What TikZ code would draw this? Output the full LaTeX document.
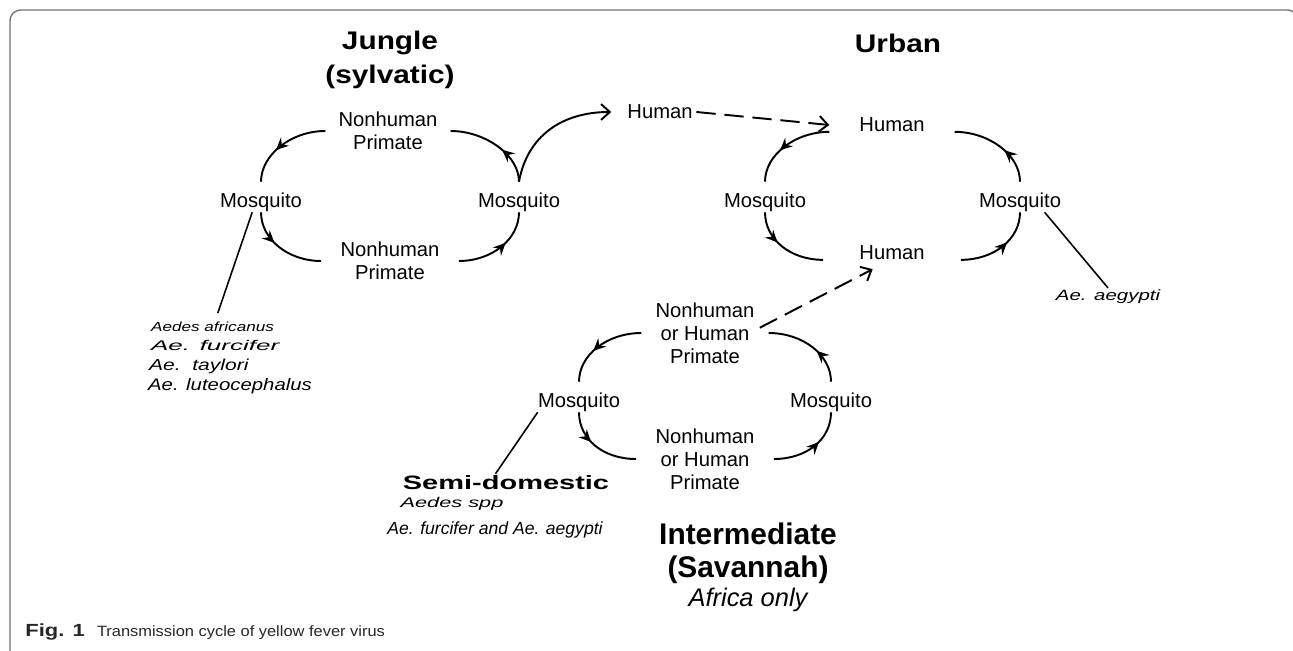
\documentclass[tikz,border=0pt]{standalone}
\usepackage{fontspec}
\setmainfont{Liberation Sans}
\usepackage{graphicx}
\usetikzlibrary{arrows.meta,decorations.markings,positioning}

\tikzset{
	lbl/.style={font=\fontsize{11.5}{13}\selectfont, align=center, inner sep=2pt},
	mos/.style={font=\fontsize{11.5}{14}\selectfont, inner sep=0pt, text height=14.7pt, text depth=2.3pt},
	ttl/.style={font=\bfseries\fontsize{14.5}{19.8}\selectfont, align=center, inner sep=1pt},
	spc/.style={anchor=west, inner sep=1pt},
	cyc/.style={line width=1.1pt},
	marr/.style={cyc, postaction={decorate}, decoration={markings, mark=at position #1 with {\arrow{Stealth[length=7pt,width=6.5pt,inset=2.5pt]}}}},
	tip/.style={-{Straight Barb[length=5pt,width=9pt]}},
	dsh/.style={cyc, tip, dash pattern=on 11pt off 5pt},
	frame/.style={draw=black!55, line width=0.8pt}
}

\begin{document}
\begin{tikzpicture}[x=0.02cm, y=-0.02cm]
	\useasboundingbox (0,0) rectangle (1293,651);
	\draw[frame, rounded corners=6pt] (10,660) -- (10,10) -- (1298,10) -- (1298,660);

	% jungle
	\node[ttl] (jtitle) at (390,60) {\scalebox{1.17}[1]{Jungle}\\\scalebox{1.17}[1]{(sylvatic)}};
	\node[lbl, minimum width=71pt] (jT) at (388,131) {Nonhuman\\Primate};
	\node[lbl, minimum width=78pt] (jB) at (390,261) {Nonhuman\\Primate};
	\node[mos] (jL) at (261,197) {Mosquito};
	\node[mos] (jR) at (519,197) {Mosquito};
	\node[lbl] (hum) at (660,112) {Human};

	\node[spc, font=\itshape\fontsize{7.5}{9}\selectfont] (ja) at (149,327) {\scalebox{1.3}[1]{Aedes africanus}};
	\node[spc, font=\itshape\fontsize{8}{10}\selectfont] (jf) at (149,345) {\scalebox{1.85}[1]{Ae. furcifer}};
	\node[spc, font=\itshape\fontsize{9}{11}\selectfont] (jt) at (147,366) {\scalebox{1.33}[1]{Ae.\ \ taylori}};
	\node[spc, font=\itshape\fontsize{9.5}{11}\selectfont] (jl) at (146,386) {\scalebox{1.22}[1]{Ae. luteocephalus}};

	% urban
	\node[ttl] (utitle) at (898,43) {\scalebox{1.17}[1]{Urban}};
	\node[lbl, minimum width=71pt] (uT) at (892,125) {Human};
	\node[lbl, minimum width=78pt] (uB) at (892,253) {Human};
	\node[mos] (uL) at (765,197) {Mosquito};
	\node[mos] (uR) at (1020,197) {Mosquito};
	\node[font=\itshape\fontsize{8.5}{10}\selectfont, inner sep=1pt] (aeg) at (1108,297) {\scalebox{1.37}[1]{Ae. aegypti}};

	% intermediate
	\node[lbl, minimum width=72pt] (iT) at (705,333) {Nonhuman\\or Human\\Primate};
	\node[lbl, minimum width=78pt] (iB) at (705,459) {Nonhuman\\or Human\\Primate};
	\node[mos] (iL) at (579,397) {Mosquito};
	\node[mos] (iR) at (831,397) {Mosquito};
	\node[ttl, font=\bfseries\fontsize{17}{18.7}\selectfont] (ititle) at (748,553) {Intermediate\\(Savannah)};
	\node[font=\itshape\fontsize{14.5}{17}\selectfont, inner sep=1pt, below=0pt of ititle] (africa) {Africa only};

	\node[font=\bfseries\fontsize{11}{13}\selectfont, inner sep=1pt] (semi) at (506,483) {\scalebox{1.5}[1]{Semi-domestic}};
	\node[font=\itshape\fontsize{8}{10}\selectfont, inner sep=1pt] (spp) at (452,504) {\scalebox{1.55}[1]{Aedes spp}};
	\node[font=\itshape\fontsize{10}{12}\selectfont, inner sep=1pt] (furaeg) at (495,530) {Ae. furcifer and Ae. aegypti};

	\node[anchor=west, inner sep=0pt, text=black!85] (cap) at (25,632) {{\bfseries\fontsize{10}{12}\selectfont\scalebox{1.25}[1]{Fig. 1}}\hspace{7pt}{\fontsize{8.5}{10}\selectfont\scalebox{1.1}[1]{Transmission cycle of yellow fever virus}}};

	% cycles
	\draw[marr=0.6] (jT.west) .. controls +(-34,0) and +(0,-27) .. (jL.north);
	\draw[marr=0.4] (jR.north) .. controls +(0,-27) and +(34,0) .. (jT.east);
	\draw[marr=0.4] (jL.south) .. controls +(0,27) and +(-33,0) .. (jB.west);
	\draw[marr=0.6] (jB.east) .. controls +(33,0) and +(0,27) .. (jR.south);

	\draw[marr=0.6] (uT.base west) .. controls +(-34,0) and +(0,-27) .. (uL.north);
	\draw[marr=0.4] (uR.north) .. controls +(0,-27) and +(34,0) .. (uT.base east);
	\draw[marr=0.4] (uL.south) .. controls +(0,27) and +(-33,0) .. (uB.base west);
	\draw[marr=0.6] (uB.base east) .. controls +(33,0) and +(0,27) .. (uR.south);

	\draw[marr=0.6] (iT.west) .. controls +(-34,0) and +(0,-27) .. (iL.north);
	\draw[marr=0.4] (iR.north) .. controls +(0,-27) and +(34,0) .. (iT.east);
	\draw[marr=0.4] (iL.south) .. controls +(0,27) and +(-33,0) .. (iB.west);
	\draw[marr=0.6] (iB.east) .. controls +(33,0) and +(0,27) .. (iR.south);

	% links
	\draw[cyc, tip] (jR.north) .. controls +(8,-45) and +(-50,0) .. ([xshift=-7pt]hum.west);
	\draw[dsh] (hum.east) -- (uT.west);
	\draw[dsh] ([shift={(-5pt,3pt)}]iT.east) -- ([shift={(-11pt,-3pt)}]uB.south);

	\draw[line width=0.9pt] ([xshift=-5pt]jL.south) -- ([shift={(3pt,4pt)}]ja.north);
	\draw[line width=0.9pt] ([xshift=14pt]uR.south) -- (aeg.north);
	\draw[line width=0.9pt] (iL.south west) -- ([xshift=-6pt]semi.north);
\end{tikzpicture}
\end{document}
